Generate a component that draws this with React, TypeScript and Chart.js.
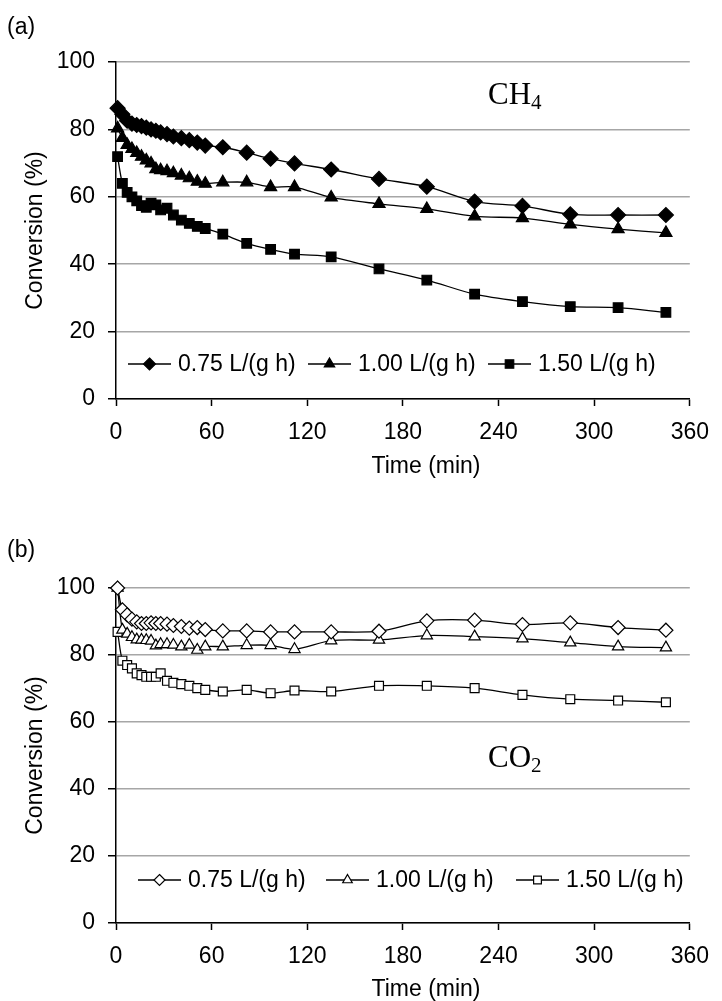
import React, { useEffect, useRef } from 'react';
import { Chart, registerables } from 'chart.js';

Chart.register(...registerables);

// ---------------- data ----------------
const TIME_MIN = [1, 4, 7, 10, 13, 16, 19, 22, 25, 28, 32, 36, 41, 46, 51, 56, 67, 82, 97, 112, 135, 165, 195, 225, 255, 285, 315, 345];

const CH4_075 = [86.3, 84.5, 82.6, 81.7, 81.3, 81.0, 80.5, 80.0, 79.6, 79.1, 78.6, 77.9, 77.4, 76.8, 76.1, 75.2, 74.7, 73.1, 71.3, 69.9, 68.1, 65.3, 63.0, 58.6, 57.3, 54.8, 54.6, 54.6];
const CH4_100 = [80.3, 77.5, 75.4, 74.2, 73.0, 71.9, 70.8, 69.9, 68.2, 67.9, 67.6, 67.0, 66.3, 65.5, 64.5, 63.9, 64.3, 64.3, 62.9, 62.9, 59.8, 57.9, 56.4, 54.2, 53.7, 51.8, 50.4, 49.3];
const CH4_150 = [71.9, 64.0, 61.3, 60.0, 58.8, 57.4, 56.9, 58.1, 57.6, 56.1, 56.6, 54.6, 53.1, 52.1, 51.2, 50.6, 48.9, 46.2, 44.4, 43.0, 42.2, 38.6, 35.3, 31.1, 28.9, 27.4, 27.1, 25.7];

const CO2_075 = [100, 93.5, 92.0, 90.7, 89.9, 89.4, 89.4, 89.6, 89.4, 89.4, 89.2, 88.8, 88.5, 88.0, 88.2, 87.6, 87.2, 87.2, 86.9, 86.9, 86.9, 87.1, 90.2, 90.4, 89.1, 89.6, 88.2, 87.4];
const CO2_100 = [100, 87.5, 86.3, 85.3, 84.6, 84.5, 84.4, 84.2, 82.8, 83.2, 83.2, 83.0, 82.5, 83.0, 81.5, 82.5, 82.5, 82.9, 82.9, 81.7, 84.3, 84.5, 85.8, 85.5, 84.9, 83.7, 82.5, 82.2];
const CO2_150 = [86.9, 78.3, 77.0, 76.0, 74.5, 74.0, 73.5, 73.5, 73.5, 74.5, 72.3, 71.7, 71.3, 70.8, 70.1, 69.6, 69.1, 69.6, 68.6, 69.4, 69.1, 70.8, 70.8, 70.1, 68.1, 66.8, 66.4, 65.9];

const SERIES_LABELS = ['0.75 L/(g h)', '1.00 L/(g h)', '1.50 L/(g h)'];
const X_MIN = 0;
const X_MAX = 360;
const X_STEP = 60;
const Y_MIN = 0;
const Y_MAX = 100;
const Y_STEP = 20;
const X_TITLE = 'Time (min)';
const Y_TITLE = 'Conversion (%)';

// ---------------- styles ----------------
const SANS = '"Liberation Sans", Arial, sans-serif';
const SERIF = '"Liberation Serif", "Times New Roman", serif';
const FS = 23;
const MARKERS = ['rectRot', 'triangle', 'rect'];

function pts(values: number[]) {
  return TIME_MIN.map((t, i) => ({ x: t, y: values[i] }));
}

function drawMarker(ctx: CanvasRenderingContext2D, style: string, x: number, y: number, r: number, filled: boolean) {
  ctx.beginPath();
  if (style === 'rectRot') {
    ctx.moveTo(x, y - r);
    ctx.lineTo(x + r, y);
    ctx.lineTo(x, y + r);
    ctx.lineTo(x - r, y);
  } else if (style === 'triangle') {
    let a = 0;
    for (let k = 0; k < 3; k++) {
      const px = x + Math.sin(a) * r;
      const py = y - Math.cos(a) * r;
      if (k === 0) ctx.moveTo(px, py); else ctx.lineTo(px, py);
      a += (2 * Math.PI) / 3;
    }
  } else {
    const s = r * Math.SQRT1_2;
    ctx.rect(x - s, y - s, 2 * s, 2 * s);
  }
  ctx.closePath();
  ctx.fillStyle = filled ? '#000' : '#fff';
  ctx.fill();
  ctx.lineWidth = 1.2;
  ctx.strokeStyle = '#000';
  ctx.stroke();
}

interface PanelCfg {
  height: number;
  top: number;
  bottom: number;
  values: number[][];
  filled: boolean;
  pointRadius: number[];
  panelLabel: string;
  panelLabelY: number;
  gas: string;
  gasSub: string;
  gasX: number;
  gasBaseline: number;
  legendY: number;
  legendX: number[];
  legendR: number[];
  xTitleY: number;
}

function makeChart(canvas: HTMLCanvasElement, p: PanelCfg) {
  const LEFT = 116;
  const RIGHT = 698;
  const W = 722;

  const overlay = {
    id: 'overlay' + p.panelLabel,
    afterDraw(chart: any) {
      const ctx: CanvasRenderingContext2D = chart.ctx;
      const area = chart.chartArea;
      ctx.save();
      ctx.fillStyle = '#000';
      ctx.font = `${FS}px ${SANS}`;
      ctx.textAlign = 'left';
      ctx.textBaseline = 'middle';
      ctx.fillText(p.panelLabel, 7, p.panelLabelY);
      ctx.save();
      ctx.translate(36, (area.top + area.bottom) / 2);
      ctx.rotate(-Math.PI / 2);
      ctx.textAlign = 'center';
      ctx.textBaseline = 'middle';
      ctx.fillText(Y_TITLE, 0, 0);
      ctx.restore();
      ctx.textAlign = 'center';
      ctx.textBaseline = 'middle';
      ctx.fillText(X_TITLE, 426, p.xTitleY);
      ctx.textAlign = 'left';
      ctx.textBaseline = 'alphabetic';
      ctx.font = `31px ${SERIF}`;
      ctx.fillText(p.gas, p.gasX, p.gasBaseline);
      const gw = ctx.measureText(p.gas).width;
      ctx.font = `21px ${SERIF}`;
      ctx.fillText(p.gasSub, p.gasX + gw, p.gasBaseline + 5);
      ctx.font = `${FS}px ${SANS}`;
      ctx.textBaseline = 'middle';
      for (let i = 0; i < SERIES_LABELS.length; i++) {
        const lx = p.legendX[i];
        ctx.beginPath();
        ctx.moveTo(lx, p.legendY);
        ctx.lineTo(lx + 43, p.legendY);
        ctx.lineWidth = 1.3;
        ctx.strokeStyle = '#000';
        ctx.stroke();
        drawMarker(ctx, MARKERS[i], lx + 21.5, p.legendY, p.legendR[i], p.filled);
        ctx.fillStyle = '#000';
        ctx.textAlign = 'left';
        ctx.fillText(SERIES_LABELS[i], lx + 50, p.legendY + 1);
      }
      ctx.restore();
    },
  };

  const datasets = p.values.map((v, i) => ({
    label: SERIES_LABELS[i],
    data: pts(v),
    borderColor: '#000',
    borderWidth: 1.3,
    backgroundColor: p.filled ? '#000' : '#fff',
    pointStyle: MARKERS[i],
    pointRadius: p.pointRadius[i],
    pointBackgroundColor: p.filled ? '#000' : '#fff',
    pointBorderColor: '#000',
    pointBorderWidth: 1.2,
    tension: 0.3,
    fill: false,
    clip: false as any,
  }));

  return new Chart(canvas, {
    type: 'line',
    data: { datasets },
    options: {
      animation: false,
      responsive: false,
      devicePixelRatio: 1,
      events: [],
      layout: { padding: { left: 0, right: W - RIGHT, top: p.top, bottom: 0 } },
      plugins: { legend: { display: false }, tooltip: { enabled: false }, title: { display: false } },
      scales: {
        x: {
          type: 'linear',
          min: X_MIN,
          max: X_MAX,
          afterFit: (s: any) => { s.height = p.height - p.bottom; },
          ticks: {
            stepSize: X_STEP,
            color: '#000',
            font: { family: SANS, size: FS },
            padding: 13,
            maxRotation: 0,
          },
          grid: { display: true, drawOnChartArea: false, drawTicks: true, tickLength: 7, tickColor: '#000', tickWidth: 1.5 },
          border: { display: true, color: '#000', width: 1.5 },
        },
        y: {
          type: 'linear',
          min: Y_MIN,
          max: Y_MAX,
          afterFit: (s: any) => { s.width = LEFT; },
          ticks: {
            stepSize: Y_STEP,
            color: '#000',
            font: { family: SANS, size: FS },
            padding: 13,
          },
          grid: { color: '#a6a6a6', lineWidth: 1.5, drawTicks: true, tickLength: 8, tickColor: '#000', tickWidth: 1.5 },
          border: { display: true, color: '#000', width: 1.5 },
        },
      },
    },
    plugins: [overlay],
  } as any);
}

const PANEL_A: PanelCfg = {
  height: 500,
  top: 62,
  bottom: 399,
  values: [CH4_075, CH4_100, CH4_150],
  filled: true,
  pointRadius: [7.5, 7, 6.8],
  panelLabel: '(a)',
  panelLabelY: 28,
  gas: 'CH',
  gasSub: '4',
  gasX: 488,
  gasBaseline: 104,
  legendY: 364,
  legendX: [128, 308, 488],
  legendR: [6, 6, 6],
  xTitleY: 467,
};

const PANEL_B: PanelCfg = {
  height: 501,
  top: 88,
  bottom: 423,
  values: [CO2_075, CO2_100, CO2_150],
  filled: false,
  pointRadius: [7, 6.5, 6.3],
  panelLabel: '(b)',
  panelLabelY: 51,
  gas: 'CO',
  gasSub: '2',
  gasX: 488,
  gasBaseline: 267,
  legendY: 380,
  legendX: [138, 326, 516],
  legendR: [5.5, 5.5, 5.5],
  xTitleY: 490,
};

function Panel({ cfg, top }: { cfg: PanelCfg; top: number }) {
  const ref = useRef<HTMLCanvasElement | null>(null);
  useEffect(() => {
    if (!ref.current) return;
    const chart = makeChart(ref.current, cfg);
    return () => chart.destroy();
  }, [cfg]);
  return (
    <canvas
      ref={ref}
      width={722}
      height={cfg.height}
      style={{ position: 'absolute', left: 0, top, width: 722, height: cfg.height, display: 'block' }}
    />
  );
}

export default function App() {
  return (
    <div style={{ position: 'absolute', left: 0, top: 0, width: 722, height: 1001, background: '#fff' }}>
      <Panel cfg={PANEL_A} top={0} />
      <Panel cfg={PANEL_B} top={500} />
    </div>
  );
}
